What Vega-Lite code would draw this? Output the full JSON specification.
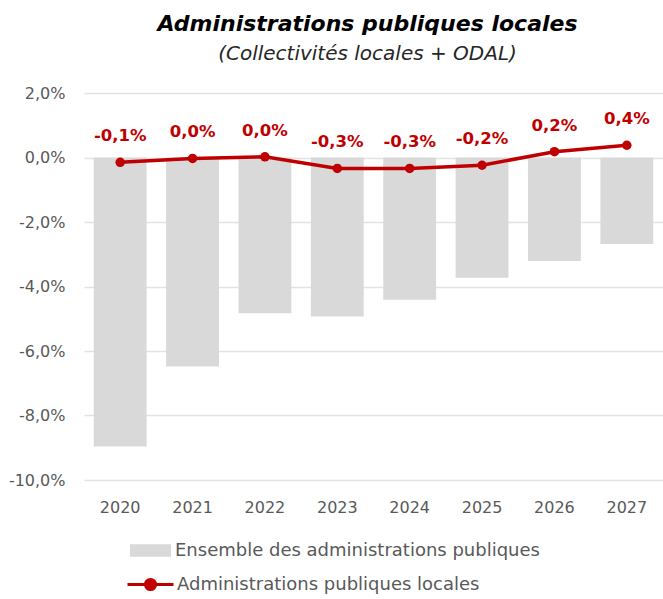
{
  "$schema": "https://vega.github.io/schema/vega-lite/v6.json",
  "width": 579,
  "height": 387,
  "autosize": {"type": "none"},
  "padding": {"left": 84, "top": 93, "right": 0, "bottom": 119},
  "background": "white",
  "config": {
    "locale": {"number": {"decimal": ",", "thousands": " ", "grouping": [3], "currency": ["", " €"], "minus": "-"}},
    "font": "DejaVu Sans",
    "view": {"stroke": null},
    "axis": {"domain": false, "ticks": false, "labelColor": "#595959", "labelFontSize": 16, "labelFont": "DejaVu Sans"}
  },
  "title": {
    "text": "Administrations publiques locales",
    "subtitle": "(Collectivités locales + ODAL)",
    "anchor": "middle",
    "dx": -6,
    "font": "DejaVu Sans",
    "fontSize": 22,
    "fontWeight": "bold",
    "fontStyle": "italic",
    "color": "#000000",
    "subtitleFont": "DejaVu Sans",
    "subtitleFontSize": 20,
    "subtitleFontStyle": "italic",
    "subtitleColor": "#262626",
    "subtitlePadding": 8,
    "offset": 20
  },
  "data": {
    "values": [
      {"year": "2020", "ensemble": -0.0896, "locales": -0.0015},
      {"year": "2021", "ensemble": -0.0648, "locales": -0.0003},
      {"year": "2022", "ensemble": -0.0483, "locales": 0.0002},
      {"year": "2023", "ensemble": -0.0493, "locales": -0.0034},
      {"year": "2024", "ensemble": -0.0441, "locales": -0.0034},
      {"year": "2025", "ensemble": -0.0373, "locales": -0.0024},
      {"year": "2026", "ensemble": -0.0321, "locales": 0.0018},
      {"year": "2027", "ensemble": -0.0268, "locales": 0.0038}
    ]
  },
  "encoding": {
    "x": {
      "field": "year",
      "type": "nominal",
      "title": null,
      "scale": {"paddingInner": 0.27, "paddingOuter": 0.135},
      "axis": {"labelAngle": 0, "labelPadding": 19, "grid": false}
    }
  },
  "layer": [
    {
      "mark": {"type": "bar"},
      "encoding": {
        "y": {
          "field": "ensemble",
          "type": "quantitative",
          "title": null,
          "scale": {"domain": [-0.1, 0.02], "nice": false},
          "axis": {"format": ".1%", "values": [-0.1, -0.08, -0.06, -0.04, -0.02, 0, 0.02], "labelPadding": 19, "gridColor": "#E3E3E3", "gridWidth": 1.5}
        },
        "color": {
          "datum": "Ensemble des administrations publiques",
          "type": "nominal",
          "scale": {"range": ["#D9D9D9"]},
          "legend": {
            "title": null,
            "orient": "none",
            "legendX": 46,
            "legendY": 437,
            "symbolType": "M-1,-0.3H1V0.3H-1Z",
            "symbolSize": 1681,
            "symbolStrokeWidth": 0,
            "labelFontSize": 18,
            "labelColor": "#595959",
            "labelOffset": 4,
            "labelLimit": 600
          }
        }
      }
    },
    {
      "mark": {"type": "line", "strokeWidth": 3.5},
      "encoding": {
        "y": {"field": "locales", "type": "quantitative"},
        "stroke": {
          "datum": "Administrations publiques locales",
          "type": "nominal",
          "scale": {"range": ["#C00000"]},
          "legend": {
            "title": null,
            "orient": "none",
            "legendX": 42,
            "legendY": 467,
            "symbolType": "M-1,0H1M-0.22,0A0.22,0.22 0 1,0 0.22,0A0.22,0.22 0 1,0 -0.22,0Z",
            "symbolSize": 2116,
            "symbolStrokeWidth": 3,
            "symbolFillColor": "#C00000",
            "labelFontSize": 18,
            "labelColor": "#595959",
            "labelOffset": 2,
            "labelLimit": 600
          }
        }
      }
    },
    {
      "mark": {"type": "point", "filled": true, "size": 90, "color": "#C00000", "opacity": 1},
      "encoding": {"y": {"field": "locales", "type": "quantitative"}}
    },
    {
      "mark": {"type": "text", "dy": -26, "baseline": "middle", "fontSize": 16.5, "fontWeight": "bold", "color": "#C00000", "font": "DejaVu Sans"},
      "encoding": {
        "y": {"field": "locales", "type": "quantitative"},
        "text": {"field": "locales", "type": "quantitative", "format": ".1%"}
      }
    }
  ]
}
